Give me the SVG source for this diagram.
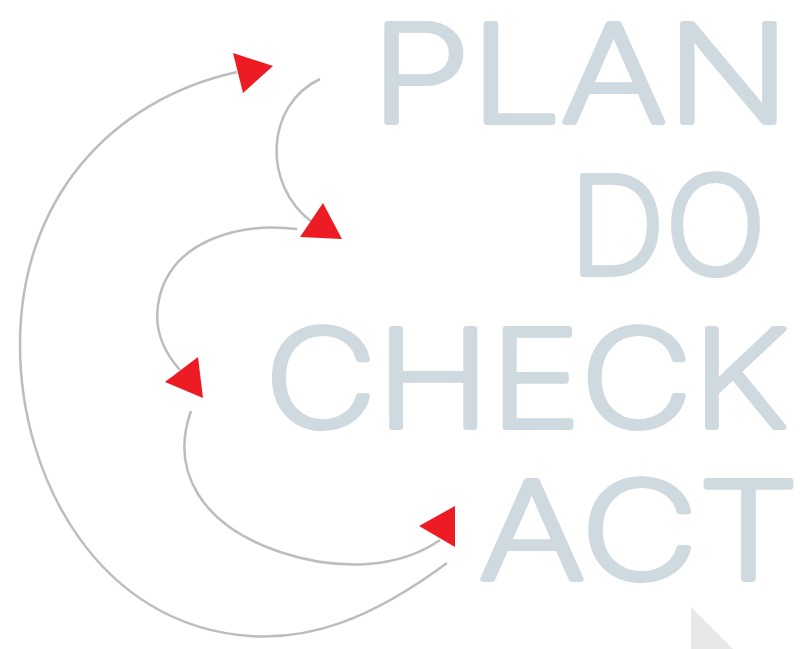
<svg xmlns="http://www.w3.org/2000/svg" width="800" height="649" viewBox="0 0 800 649">
<defs>
<style>
.word{font-family:Inter,Lato,Roboto,"DejaVu Sans",sans-serif;font-weight:200;font-size:135px;fill:#CFD9E0;stroke:#CFD9E0;stroke-width:6;stroke-linejoin:round;stroke-linecap:round}
.arc{fill:none;stroke:#BDBDBD;stroke-width:2.5}
.head{fill:#ED1C24}
</style>
</defs>
<rect width="800" height="649" fill="#FFFFFF"/>
<g id="plan"><text class="word" x="371" y="122" textLength="419" lengthAdjust="spacingAndGlyphs">PLAN</text></g>
<g id="do"><text class="word" x="569" y="274" textLength="197" lengthAdjust="spacingAndGlyphs">DO</text></g>
<g id="check"><text class="word" x="265" y="427" textLength="523" lengthAdjust="spacingAndGlyphs">CHECK</text></g>
<g id="act"><text class="word" x="479" y="579" textLength="320" lengthAdjust="spacingAndGlyphs">ACT</text></g>
<g id="corner"><polygon points="691,607 691,649 733,649" fill="#E8E8E8"/></g>
<g id="connectors">
<path class="arc" d="M447,563 C370,620 310,640 250,636 C100,626 20,480 20,345 C20,200 110,100 237,72"/>
<polygon class="head" points="233,53 273,66 243,93"/>
<path class="arc" d="M320,79 C265,105 262,185 312,222"/>
<polygon class="head" points="323,203 300,237 342,239"/>
<path class="arc" d="M297,229 C240,222 175,240 160,295 C152,325 162,350 180,370"/>
<polygon class="head" points="198,357 165,382 203,398"/>
<path class="arc" d="M191,411 C170,470 200,525 280,552 C340,572 400,568 440,540"/>
<polygon class="head" points="455,506 419,526 455,547"/>
</g>
</svg>
